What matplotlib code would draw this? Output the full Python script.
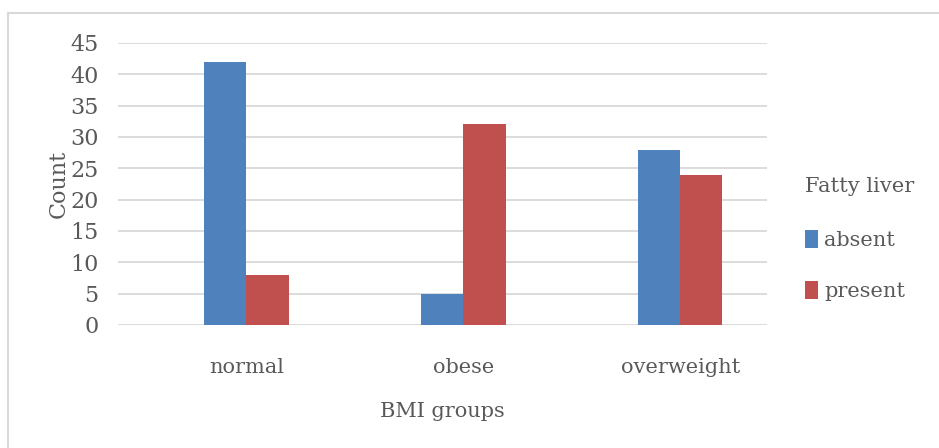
import matplotlib
matplotlib.use('Agg')
import matplotlib.pyplot as plt
from matplotlib.lines import Line2D
import numpy as np

# BMI groups vs fatty liver counts
groups = ['normal', 'obese', 'overweight']
absent = [42, 5, 28]
present = [8, 32, 24]
yticks = list(range(0, 50, 5))

blue = '#4F81BD'
red = '#C0504D'
text_col = '#595959'

plt.rcParams['font.family'] = 'DejaVu Serif'
plt.rcParams['font.size'] = 15

fig = plt.figure(figsize=(9.39, 4.48), dpi=100)
ax = fig.add_axes([0.1257, 0.2746, 0.6911, 0.6295])

x = np.arange(len(groups))
w = 0.194
ax.bar(x - w / 2, absent, w, color=blue, label='absent', zorder=3)
ax.bar(x + w / 2, present, w, color=red, label='present', zorder=3)

ax.set_xlim(-0.592, 2.399)
ax.set_ylim(0, 45)
ax.set_yticks(yticks)
ax.set_xticks(x)
ax.set_xticklabels(groups)
ax.yaxis.grid(True, color='#D9D9D9', linewidth=1.3, zorder=0)
for s in ax.spines.values():
    s.set_visible(False)
ax.tick_params(length=0, colors=text_col, labelsize=15)
ax.tick_params(axis='y', labelsize=16, pad=14)
ax.tick_params(axis='x', pad=24)
ax.set_xlabel('BMI groups', color=text_col, fontsize=15, labelpad=18)
ax.set_ylabel('Count', color=text_col, fontsize=16, labelpad=0)

leg = ax.legend(title='Fatty liver', loc='center left', bbox_to_anchor=(1.03, 0.305),
                frameon=False, handlelength=0.6, handleheight=0.9, handletextpad=0.3,
                labelspacing=1.5, fontsize=15, title_fontsize=15, labelcolor=text_col)
leg.get_title().set_color(text_col)
leg._legend_box.align = 'left'
leg._legend_box.sep = 25

# chart frame (top and left edges)
fig.add_artist(Line2D([8 / 939, 1.0], [1 - 13 / 448, 1 - 13 / 448], color='#D9D9D9', linewidth=1.5))
fig.add_artist(Line2D([8 / 939, 8 / 939], [0, 1 - 13 / 448], color='#D9D9D9', linewidth=1.5))

fig.savefig('out.png', dpi=100)
